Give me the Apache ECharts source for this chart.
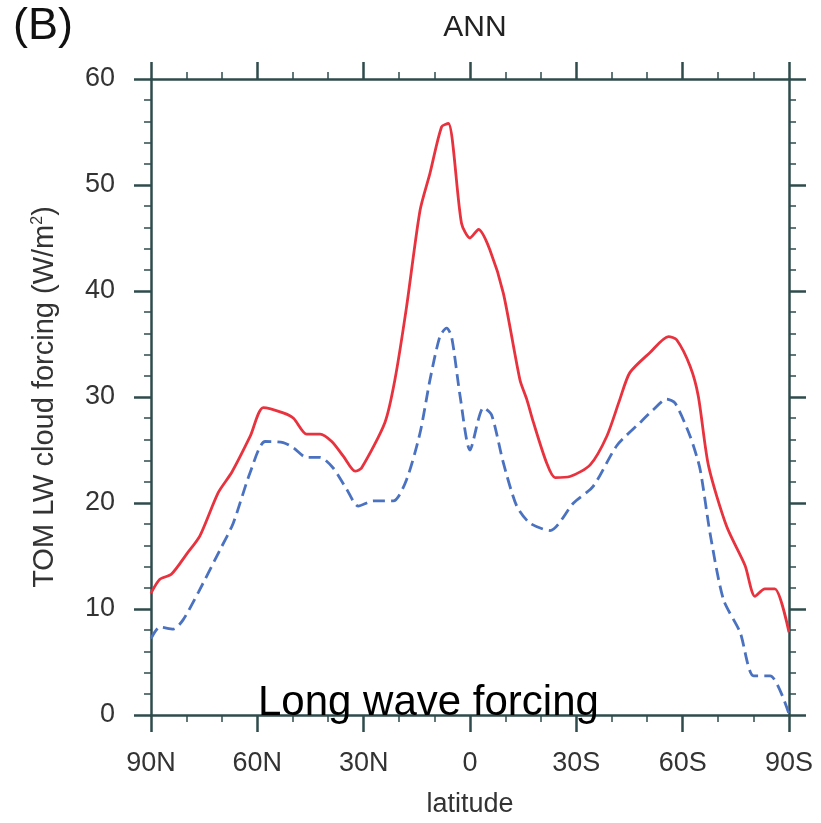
<!DOCTYPE html>
<html>
<head>
<meta charset="utf-8">
<script src="https://cdn.jsdelivr.net/npm/echarts@6/dist/echarts.min.js"></script>
<style>html,body{margin:0;padding:0;background:#fff;}#c{width:821px;height:823px;}</style>
</head>
<body>
<div id="c"></div>
<script>
// Latitude (positive = N, negative = S)
const redLat = [90, 87.5, 84.2, 79.9, 76.2, 71, 67.2, 62, 58.3, 52.7, 49.8, 46.1, 42.3, 39, 35.7, 32.4, 30.6, 24, 21.2, 17.9, 14.1, 11.3, 8, 6.1, 2.4, 0, -2.4, -5.6, -9.4, -14.1, -16, -17.9, -21.6, -24, -28.2, -33.9, -38.6, -42.3, -45.1, -50.8, -56, -58.3, -62.1, -64.4, -67.3, -72.4, -77.6, -80.4, -83.2, -86, -90];
const redVal = [11.5, 12.8, 13.3, 15.2, 16.9, 21.0, 22.9, 26.3, 29.0, 28.5, 28.0, 26.5, 26.5, 25.8, 24.4, 23.0, 23.3, 27.6, 31.6, 38.5, 47.6, 51.1, 55.5, 55.8, 46.4, 45.0, 45.8, 43.9, 39.8, 31.6, 29.8, 27.6, 23.8, 22.4, 22.5, 23.6, 26.3, 29.8, 32.3, 34.2, 35.7, 35.4, 32.9, 30.1, 23.5, 17.8, 14.1, 11.2, 11.9, 11.9, 7.8];

const blueLat = [90, 87.5, 83.7, 80.9, 76.6, 70.5, 66.8, 62, 57.8, 52.7, 49.8, 46.1, 42.3, 38.6, 34.8, 31.5, 27.3, 21.6, 17.9, 14.1, 11.3, 8.5, 6.6, 5.2, 2.8, 0, -3.8, -6.1, -9.4, -13.2, -16.9, -22.6, -29.2, -34.8, -41.4, -48, -51.7, -55.5, -57.9, -62.1, -64.9, -67.7, -71.5, -76.2, -80, -84.7, -90];
const blueVal = [7.2, 8.3, 8.1, 9.0, 11.6, 15.6, 18.1, 22.9, 25.8, 25.7, 25.2, 24.3, 24.3, 23.3, 21.3, 19.7, 20.2, 20.2, 22.2, 26.6, 31.6, 35.7, 36.5, 35.7, 30.1, 25.0, 29.0, 28.3, 23.8, 19.7, 18.1, 17.4, 20.0, 21.6, 25.4, 27.6, 28.8, 29.8, 29.4, 26.3, 23.2, 17.2, 10.9, 7.8, 3.7, 3.7, 0.1];

const xTicks = [90, 60, 30, 0, -30, -60, -90];
const xTickLabels = ['90N', '60N', '30N', '0', '30S', '60S', '90S'];

const FONT = '"Liberation Sans", Arial, sans-serif';
const AX = '#2f4b4b';
const LBL = '#333333';

function latLabel(v) {
  const i = xTicks.indexOf(v);
  return i >= 0 ? xTickLabels[i] : '';
}

const chart = echarts.init(document.getElementById('c'), null, {renderer: 'canvas'});

const axisLine = {show: true, onZero: false, lineStyle: {color: AX, width: 2.5}};
const majorTick = {show: true, inside: false, length: 17, lineStyle: {color: AX, width: 2.5}};
const minorTick = {show: true, length: 7, lineStyle: {color: AX, width: 1.5}};

chart.setOption({
  backgroundColor: '#ffffff',
  animation: false,
  title: {
    text: 'ANN',
    left: 470, top: 8, textAlign: 'center',
    textStyle: {fontFamily: FONT, fontSize: 30, fontWeight: 'normal', color: '#222'}
  },
  graphic: [
    {type: 'text', left: 13, top: 4,
      style: {text: '(B)', fontFamily: FONT, fontSize: 45, fill: '#111'}},
    {type: 'text', x: 258, y: 703,
      style: {text: 'Long wave forcing', fontFamily: FONT, fontSize: 42, fill: '#000', verticalAlign: 'middle', align: 'left'}, z: 100}
  ],
  grid: {left: 151, right: 32, top: 79, bottom: 107, containLabel: false},
  xAxis: [
    {
      type: 'value', min: -90, max: 90, interval: 30, inverse: true, position: 'bottom',
      name: 'latitude', nameLocation: 'middle', nameGap: 76,
      nameTextStyle: {fontFamily: FONT, fontSize: 27, color: LBL},
      axisLine: axisLine, axisTick: majorTick,
      minorTick: Object.assign({splitNumber: 3}, minorTick),
      splitLine: {show: false},
      axisLabel: {formatter: latLabel, fontFamily: FONT, fontSize: 27, color: LBL, margin: 35}
    },
    {
      type: 'value', min: -90, max: 90, interval: 30, inverse: true, position: 'top',
      axisLine: axisLine, axisTick: majorTick,
      minorTick: Object.assign({splitNumber: 3}, minorTick),
      splitLine: {show: false}, axisLabel: {show: false}
    }
  ],
  yAxis: [
    {
      type: 'value', min: 0, max: 60, interval: 10, position: 'left',
      name: 'TOM LW cloud forcing (W/m{sup|2})', nameLocation: 'middle', nameGap: 92,
      nameTextStyle: {fontFamily: FONT, fontSize: 29, color: LBL,
        rich: {sup: {fontFamily: FONT, fontSize: 16, color: LBL, verticalAlign: 'top', padding: [0,0,12,0]}}},
      axisLine: axisLine, axisTick: majorTick,
      minorTick: Object.assign({splitNumber: 5}, minorTick),
      splitLine: {show: false},
      axisLabel: {fontFamily: FONT, fontSize: 27, color: LBL, margin: 36}
    },
    {
      type: 'value', min: 0, max: 60, interval: 10, position: 'right',
      axisLine: axisLine, axisTick: majorTick,
      minorTick: Object.assign({splitNumber: 5}, minorTick),
      splitLine: {show: false}, axisLabel: {show: false}
    }
  ],
  series: [
    {
      type: 'line', name: 'red', xAxisIndex: 0, yAxisIndex: 0,
      data: redLat.map((la, i) => [la, redVal[i]]),
      showSymbol: false, smooth: 0.25,
      lineStyle: {color: '#e8323e', width: 2.8}
    },
    {
      type: 'line', name: 'blue', xAxisIndex: 0, yAxisIndex: 0,
      data: blueLat.map((la, i) => [la, blueVal[i]]),
      showSymbol: false, smooth: 0.25,
      lineStyle: {color: '#4a72c0', width: 2.8, type: [12, 6]}
    }
  ]
});
</script>
</body>
</html>
